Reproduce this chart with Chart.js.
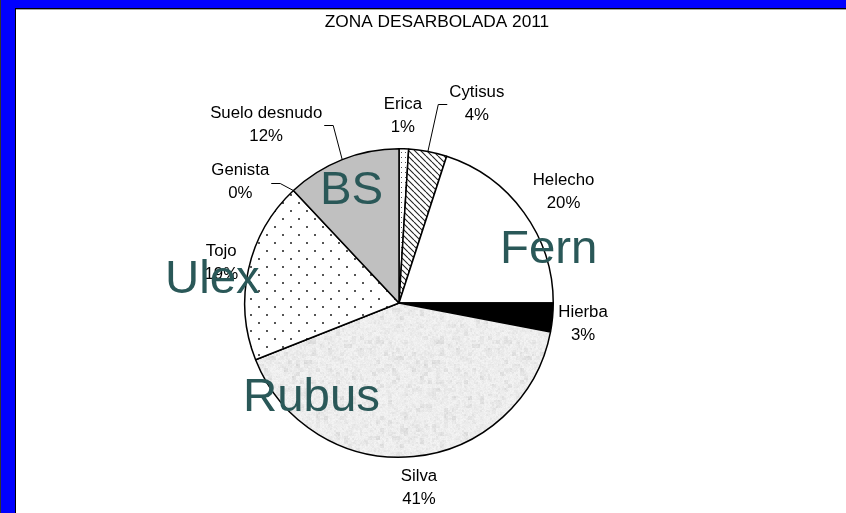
<!DOCTYPE html>
<html>
<head>
<meta charset="utf-8">
<script src="https://cdn.jsdelivr.net/npm/chart.js@4.4.1/dist/chart.umd.min.js"></script>
<style>
  html, body { margin: 0; padding: 0; background: #fff; }
  #c { display: block; }
</style>
</head>
<body>
<canvas id="c" width="846" height="513"></canvas>
<script>
// ---------------- DATA ----------------
const chartTitle = "ZONA DESARBOLADA 2011";
const categories = ["Erica", "Cytisus", "Helecho", "Hierba", "Silva", "Tojo", "Genista", "Suelo desnudo"];
const percentValues = [1, 4, 20, 3, 41, 19, 0, 12];
const overlayWords = ["BS", "Fern", "Ulex", "Rubus"];

// ---------------- STYLE ----------------
const FONT = '"Liberation Sans", Arial, sans-serif';
function makeTile(w, h, draw) {
  const c = document.createElement('canvas');
  c.width = w; c.height = h;
  const g = c.getContext('2d');
  draw(g, w, h);
  return g.createPattern(c, 'repeat');
}
function hash(x, y) {
  let n = (x * 374761393 + y * 668265263) | 0;
  n = (n ^ (n >>> 13)) * 1274126177 | 0;
  n = n ^ (n >>> 16);
  return ((n >>> 0) % 10000) / 10000;
}
const ericaPat = makeTile(4, 5, (g, w, h) => {
  g.fillStyle = '#fff'; g.fillRect(0, 0, w, h);
  g.fillStyle = '#555'; g.fillRect(1, 2, 1, 1);
});
const cytisusPat = makeTile(6, 6, (g, w, h) => {
  g.fillStyle = '#fff'; g.fillRect(0, 0, w, h);
  g.strokeStyle = '#222'; g.lineWidth = 1.1;
  g.beginPath();
  for (let k = -1; k <= 1; k++) { g.moveTo(k * 6, 0); g.lineTo(k * 6 + 6, 6); }
  g.stroke();
});
const tojoPat = makeTile(16, 16, (g, w, h) => {
  g.fillStyle = '#fff'; g.fillRect(0, 0, w, h);
  g.fillStyle = '#555';
  g.fillRect(2, 2, 2, 2);
  g.fillRect(10, 10, 2, 2);
});
const silvaPat = makeTile(128, 128, (g, w, h) => {
  const img = g.createImageData(w, h);
  for (let y = 0; y < h; y++) for (let x = 0; x < w; x++) {
    const a = hash(x, y), b = hash(x >> 1, y >> 1), c2 = hash((x >> 2) + 97, (y >> 2) + 31);
    let v = 245 - 9 * a - 10 * b * b * b - 16 * Math.pow(c2, 5);
    const i = (y * w + x) * 4;
    img.data[i] = img.data[i + 1] = img.data[i + 2] = Math.max(0, Math.min(255, v));
    img.data[i + 3] = 255;
  }
  g.putImageData(img, 0, 0);
});
const sliceFills = [ericaPat, cytisusPat, '#ffffff', '#000000', silvaPat, tojoPat, '#ffffff', '#c0c0c0'];

// label placement relative to each slice's mid-angle (degrees) and outer radius (px)
const labelPlace = [
  { da: -0.6, dr: 33 },
  { da: 10.6, dr: 59, leader: 'left' },
  { da: 2.1, dr: 44 },
  { da: 1.2, dr: 31 },
  { da: -0.75, dr: 32 },
  { da: 0.2, dr: 28 },
  { da: -9.6, dr: 45, leader: 'right' },
  { da: -15.1, dr: 68, leader: 'right' }
];
// overlay words: offset of left/baseline from pie centre in px
const overlayPlace = [
  { dx: -79, dy: -99 },
  { dx: 101, dy: -40 },
  { dx: -234, dy: -10 },
  { dx: -156, dy: 108 }
];

const framePlugin = {
  id: 'frame',
  beforeDraw(chart) {
    const g = chart.ctx, W = chart.width, H = chart.height;
    g.save();
    g.fillStyle = '#fff'; g.fillRect(0, 0, W, H);
    g.fillStyle = '#0000ff';
    g.fillRect(0, 0, W, 8);
    g.fillRect(0, 0, 15, H);
    g.fillStyle = '#333'; g.fillRect(0, 0, 1, H);
    g.fillStyle = '#000';
    g.fillRect(15, 8, 1, H - 8);
    g.fillRect(15, 8, W - 15, 1);
    g.fillStyle = '#a0a0a0'; g.fillRect(16, 9, W - 16, 1);
    // title
    g.fillStyle = '#000';
    g.font = '16px ' + FONT;
    g.textAlign = 'center'; g.textBaseline = 'middle';
    g.save(); g.translate(437, 23); g.scale(1.08, 1);
    g.fillText(chartTitle, 0, 0);
    g.restore();
    g.restore();
  }
};

const labelPlugin = {
  id: 'sliceLabels',
  afterDatasetsDraw(chart) {
    const g = chart.ctx;
    const meta = chart.getDatasetMeta(0);
    const vals = chart.data.datasets[0].data;
    const total = vals.reduce((s, v) => s + v, 0);
    g.save();
    g.font = '16px ' + FONT;
    g.fillStyle = '#000';
    g.strokeStyle = '#000';
    g.lineWidth = 1;
    g.textAlign = 'center'; g.textBaseline = 'middle';
    let cx = 0, cy = 0;
    const sx = 1.05;
    meta.data.forEach((arc, i) => {
      const p = arc.getProps(['x', 'y', 'startAngle', 'endAngle', 'outerRadius'], true);
      cx = p.x; cy = p.y;
      const mid = (p.startAngle + p.endAngle) / 2;
      const pl = labelPlace[i];
      const a = mid + pl.da * Math.PI / 180;
      const d = p.outerRadius + pl.dr;
      const lx = p.x + Math.cos(a) * d, ly = p.y + Math.sin(a) * d;
      const line1 = chart.data.labels[i];
      const line2 = Math.round(vals[i] / total * 100) + '%';
      [line1, line2].forEach((t, k) => {
        g.save(); g.translate(lx, ly - 11.5 + k * 23); g.scale(sx, 1);
        g.fillText(t, 0, 0); g.restore();
      });
      if (pl.leader) {
        const w = Math.max(g.measureText(line1).width, g.measureText(line2).width) * sx;
        const dir = pl.leader === 'left' ? -1 : 1;
        const ex = lx + dir * (w / 2 + 2);
        const elx = ex + dir * 9;
        const ax = p.x + Math.cos(mid) * p.outerRadius, ay = p.y + Math.sin(mid) * p.outerRadius;
        g.beginPath();
        g.moveTo(ex, Math.round(ly) + 0.5);
        g.lineTo(elx, Math.round(ly) + 0.5);
        g.lineTo(ax, ay);
        g.stroke();
      }
    });
    // overlay words
    g.font = '46px ' + FONT;
    g.fillStyle = '#2a5858';
    g.textAlign = 'left'; g.textBaseline = 'alphabetic';
    overlayWords.forEach((w, i) => {
      const o = overlayPlace[i];
      g.save(); g.translate(cx + o.dx, cy + o.dy); g.scale(1.03, 1);
      g.fillText(w, 0, 0); g.restore();
    });
    g.restore();
  }
};

new Chart(document.getElementById('c'), {
  type: 'pie',
  data: {
    labels: categories,
    datasets: [{
      data: percentValues,
      backgroundColor: sliceFills,
      borderColor: '#000',
      borderWidth: 1.5
    }]
  },
  options: {
    responsive: false,
    animation: false,
    layout: { padding: { left: 244, right: 292, top: 148, bottom: 55 } },
    plugins: { legend: { display: false }, tooltip: { enabled: false }, title: { display: false } },
    events: []
  },
  plugins: [framePlugin, labelPlugin]
});
</script>
</body>
</html>
